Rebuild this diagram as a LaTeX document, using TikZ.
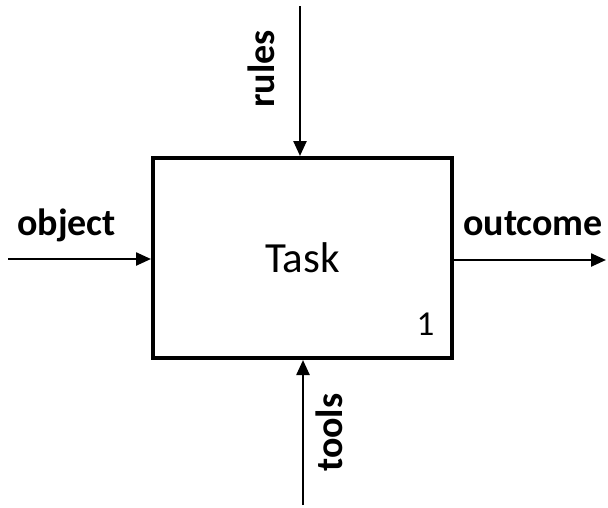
\documentclass[tikz,border=0pt]{standalone}
\usepackage{fontspec}
\setmainfont{Carlito}
\usetikzlibrary{arrows.meta, positioning}
\tikzset{
    x=1pt, y=-1pt, % one unit is one pixel of the layout, y going down
    flow/.style={line width=2.4pt, -{Triangle[length=15pt, width=13pt]}}, % arrows into and out of the box
    activity/.style={draw, line width=4pt, minimum width=299pt, minimum height=200pt, font=\fontsize{43}{47}\selectfont}, % the task box
    arrowlabel/.style={font=\fontsize{38}{42}\selectfont\bfseries, inner sep=0pt}, % bold labels at the arrows
}
\begin{document}
\begin{tikzpicture}
    \useasboundingbox (0,0) rectangle (608,507);

    \node[activity] (task) at (302.5,258) {Task};
    \node[anchor=base, inner sep=0pt, font=\fontsize{35}{39}\selectfont] (number) at (425.5,335) {1};

    % free ends of the arrows
    \coordinate (inputend) at (8,259);
    \coordinate (outputend) at (606,260);
    \coordinate (controlend) at (300,6);
    \coordinate (mechend) at (303,505);

    \draw[flow] (inputend) -- (inputend -| task.west);
    \draw[flow] (task.east |- outputend) -- (outputend);
    \draw[flow] (controlend) -- (controlend |- task.north);
    \draw[flow] (mechend) -- (mechend |- task.south);

    \node[arrowlabel, anchor=base west] (object) at (17,235) {object};
    \node[arrowlabel, anchor=base west] (outcome) at (463,235) {outcome};
    \node[arrowlabel, anchor=base west, rotate=90] (rules) at (274,108) {rules};
    \node[arrowlabel, anchor=base west, rotate=90] (tools) at (342,472) {tools};
\end{tikzpicture}
\end{document}
